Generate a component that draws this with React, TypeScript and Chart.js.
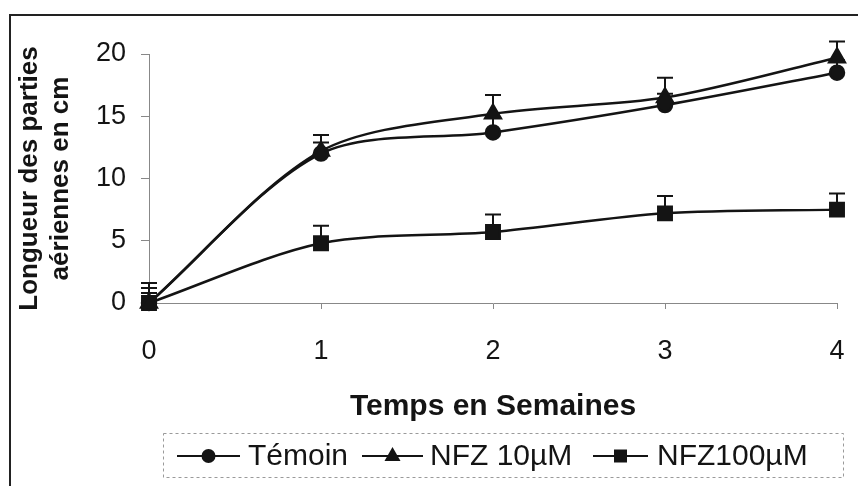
import React, { useEffect, useRef } from "react";
import { Chart, registerables } from "chart.js";

Chart.register(...registerables);

const weeks = [0, 1, 2, 3, 4];
const temoin = [0, 12.0, 13.7, 15.9, 18.5];
const temoinErr = [1.2, 0.9, 1.2, 0.9, 1.0];
const nfz10 = [0, 12.2, 15.2, 16.5, 19.7];
const nfz10Err = [1.6, 1.3, 1.5, 1.6, 1.3];
const nfz100 = [0, 4.8, 5.7, 7.2, 7.5];
const nfz100Err = [0.8, 1.4, 1.4, 1.4, 1.3];
const seriesNames = ["Témoin", "NFZ 10µM", "NFZ100µM"];
const xTitle = "Temps en Semaines";
const yTitle = ["Longueur des parties", "aériennes en cm"];

const FONT = "Arial, 'Liberation Sans', sans-serif";
const INK = "#141414";

const errors = [temoinErr, nfz10Err, nfz100Err];

const errorBarPlugin = {
  id: "errorBars",
  beforeDatasetsDraw(chart: any) {
    const ctx = chart.ctx;
    const yScale = chart.scales.y;
    ctx.save();
    ctx.strokeStyle = INK;
    ctx.lineWidth = 2;
    chart.data.datasets.forEach((ds: any, i: number) => {
      const meta = chart.getDatasetMeta(i);
      const errs = errors[ds.errIndex];
      meta.data.forEach((pt: any, j: number) => {
        const v = ds.data[j].y;
        const yTop = yScale.getPixelForValue(v + errs[j]);
        ctx.beginPath();
        ctx.moveTo(pt.x, pt.y);
        ctx.lineTo(pt.x, yTop);
        ctx.moveTo(pt.x - 8, yTop);
        ctx.lineTo(pt.x + 8, yTop);
        ctx.stroke();
      });
    });
    ctx.restore();
  },
};

function drawMarker(ctx: CanvasRenderingContext2D, style: string, x: number, y: number) {
  ctx.beginPath();
  if (style === "circle") {
    ctx.arc(x, y, 7, 0, Math.PI * 2);
  } else if (style === "triangle") {
    ctx.moveTo(x, y - 9);
    ctx.lineTo(x + 8, y + 5);
    ctx.lineTo(x - 8, y + 5);
    ctx.closePath();
  } else {
    ctx.rect(x - 6.5, y - 6.5, 13, 13);
  }
  ctx.fill();
}

const frameLegendPlugin = {
  id: "frameLegend",
  beforeDraw(chart: any) {
    const ctx = chart.ctx;
    ctx.save();
    ctx.fillStyle = "#ffffff";
    ctx.fillRect(0, 0, chart.width, chart.height);
    ctx.strokeStyle = "#222";
    ctx.lineWidth = 2;
    ctx.beginPath();
    ctx.moveTo(10, 486);
    ctx.lineTo(10, 15);
    ctx.lineTo(858, 15);
    ctx.stroke();
    ctx.restore();
  },
  afterDraw(chart: any) {
    const ctx = chart.ctx;
    ctx.save();
    ctx.strokeStyle = "#9a9a9a";
    ctx.lineWidth = 1;
    ctx.setLineDash([3, 3]);
    ctx.strokeRect(163.5, 433.5, 680, 44);
    ctx.setLineDash([]);
    const items = [
      { x1: 177, x2: 240, tx: 248, style: "circle" },
      { x1: 362, x2: 423, tx: 430, style: "triangle" },
      { x1: 593, x2: 648, tx: 657, style: "rect" },
    ];
    const cy = 456;
    ctx.fillStyle = INK;
    ctx.strokeStyle = INK;
    ctx.font = `30px ${FONT}`;
    ctx.textBaseline = "middle";
    ctx.textAlign = "left";
    items.forEach((it, i) => {
      ctx.lineWidth = 2;
      ctx.beginPath();
      ctx.moveTo(it.x1, cy);
      ctx.lineTo(it.x2, cy);
      ctx.stroke();
      drawMarker(ctx, it.style, (it.x1 + it.x2) / 2, cy);
      ctx.fillText(seriesNames[i], it.tx, cy + 1);
    });
    ctx.restore();
  },
};

const toPts = (vals: number[]) => vals.map((v, i) => ({ x: weeks[i], y: v }));

export default function App() {
  const ref = useRef<HTMLCanvasElement>(null);
  useEffect(() => {
    if (!ref.current) return;
    const common = {
      borderColor: INK,
      backgroundColor: INK,
      pointBackgroundColor: INK,
      pointBorderColor: INK,
      borderWidth: 2.5,
      tension: 0.3,
      fill: false,
      clip: false,
    };
    const chart = new Chart(ref.current, {
      type: "line",
      data: {
        datasets: [
          { ...common, label: seriesNames[2], data: toPts(nfz100), pointStyle: "rect", pointRadius: 9.5, errIndex: 2, order: 3 } as any,
          { ...common, label: seriesNames[0], data: toPts(temoin), pointStyle: "circle", pointRadius: 7, errIndex: 0, order: 2 } as any,
          { ...common, label: seriesNames[1], data: toPts(nfz10), pointStyle: "triangle", pointRadius: 9, errIndex: 1, order: 1 } as any,
        ],
      },
      options: {
        responsive: false,
        animation: false,
        devicePixelRatio: 1,
        layout: { padding: { left: 0, top: 54, right: 21, bottom: 0 } },
        plugins: { legend: { display: false }, tooltip: { enabled: false } },
        scales: {
          x: {
            type: "linear",
            min: 0,
            max: 4,
            afterFit: (s: any) => { s.height = 183; s.paddingLeft = 0; s.paddingRight = 0; },
            ticks: { stepSize: 1, color: INK, font: { family: FONT, size: 27 }, padding: 26 },
            grid: { display: true, drawOnChartArea: false, drawTicks: true, tickLength: 6, color: "#888" },
            border: { display: true, color: "#888", dash: [3, 3], width: 1 },
            title: {
              display: true,
              text: xTitle,
              color: INK,
              font: { family: FONT, size: 30, weight: "bold" },
              padding: { top: 0, bottom: 61 },
            },
          },
          y: {
            min: 0,
            max: 20,
            afterFit: (s: any) => { s.width = 149; s.paddingTop = 0; s.paddingBottom = 0; },
            ticks: { stepSize: 5, color: INK, font: { family: FONT, size: 27 }, padding: 15 },
            grid: { display: true, drawOnChartArea: false, drawTicks: true, tickLength: 8, color: "#888" },
            border: { display: true, color: "#888", dash: [3, 3], width: 1 },
            title: {
              display: true,
              text: yTitle,
              color: INK,
              font: { family: FONT, size: 26, weight: "bold", lineHeight: 1.2 },
              padding: { top: 14, bottom: 0 },
            },
          },
        },
      } as any,
      plugins: [errorBarPlugin, frameLegendPlugin],
    });
    return () => chart.destroy();
  }, []);
  return (
    <div style={{ position: "fixed", left: 0, top: 0, width: 858, height: 486, background: "#fff" }}>
      <canvas ref={ref} width={858} height={486} style={{ display: "block" }} />
    </div>
  );
}
